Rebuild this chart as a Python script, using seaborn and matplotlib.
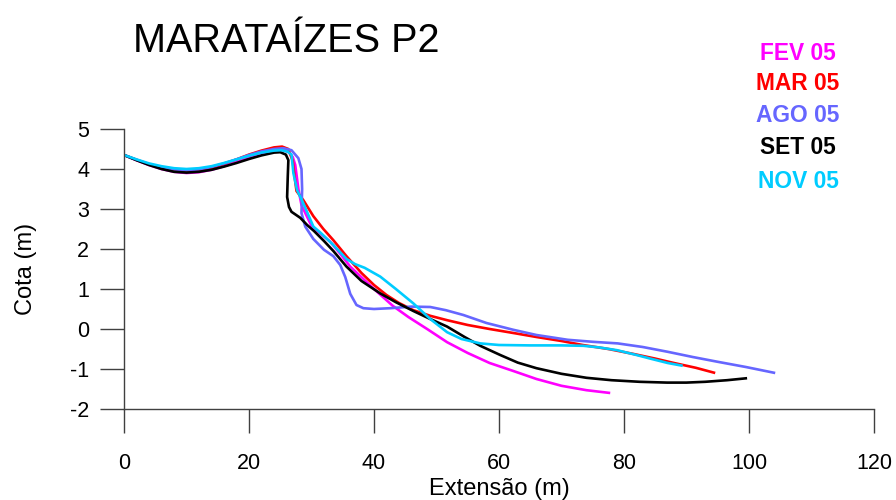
import matplotlib
matplotlib.use('Agg')
import matplotlib.pyplot as plt
import seaborn as sns
import pandas as pd

# perfis de praia - Marataízes P2
labels = ['FEV 05', 'MAR 05', 'AGO 05', 'SET 05', 'NOV 05']
colors = ['#ff00ff', '#ff0000', '#6666ff', '#000000', '#00ccff']

fev_x = [0, 2, 4, 6, 8, 10, 12, 14, 16, 18, 20, 22, 24, 25.3, 26.3, 27.0, 27.4, 27.9, 28.4, 29, 30, 31.5, 33, 34.5,
         36.2, 38.3, 40.5, 43, 45.5, 48.5, 51.7, 55, 58.5, 62.3, 66, 70, 74, 77.8]
fev_y = [4.35, 4.22, 4.1, 4.0, 3.93, 3.9, 3.92, 3.98, 4.07, 4.17, 4.28, 4.38, 4.46, 4.48, 4.43, 4.3, 4.1, 3.5, 3.1, 2.9,
         2.58, 2.38, 2.18, 1.9, 1.56, 1.25, 0.93, 0.58, 0.3, 0.0, -0.33, -0.6, -0.85, -1.05, -1.25, -1.42, -1.53, -1.6]

mar_x = [0, 2, 4, 6, 8, 10, 12, 14, 16, 18, 20, 22, 24, 25.3, 26.3, 27.0, 27.3, 27.6, 28.7, 30.3, 31.9, 33.5, 35.6,
         38, 40, 42, 44, 46.3, 49, 51.7, 55, 58.5, 62.3, 66, 70, 73.4, 77.5, 81.4, 85, 88, 91.5, 94.6]
mar_y = [4.35, 4.23, 4.12, 4.03, 3.96, 3.94, 3.96, 4.03, 4.13, 4.24, 4.36, 4.46, 4.54, 4.56, 4.5, 4.2, 3.8, 3.45,
         3.22, 2.82, 2.5, 2.22, 1.82, 1.4, 1.1, 0.85, 0.65, 0.47, 0.33, 0.22, 0.1, 0.0, -0.1, -0.2, -0.3, -0.4, -0.5,
         -0.62, -0.74, -0.85, -0.97, -1.1]

ago_x = [0, 2, 4, 6, 8, 10, 12, 14, 16, 18, 20, 22, 24, 25.5, 26.8, 27.9, 28.4, 28.5, 28.4, 29, 30.3, 32, 33.5, 34.6,
         35.4, 36.2, 37.2, 38.3, 40, 42.6, 46, 49, 51.5, 54.3, 58, 62.3, 66, 71, 75, 79, 83, 87, 91, 95, 99.5, 104.2]
ago_y = [4.35, 4.23, 4.12, 4.04, 3.99, 3.97, 3.99, 4.05, 4.14, 4.24, 4.35, 4.44, 4.5, 4.52, 4.47, 4.27, 4.0, 3.5,
         2.9, 2.56, 2.25, 1.98, 1.82, 1.6, 1.3, 0.88, 0.6, 0.52, 0.5, 0.52, 0.56, 0.55, 0.47, 0.35, 0.15, -0.02,
         -0.15, -0.27, -0.32, -0.36, -0.45, -0.57, -0.7, -0.82, -0.95, -1.1]

set_x = [0, 2, 4, 6, 8, 10, 12, 14, 16, 18, 20, 22, 24, 25, 25.9, 26.3, 26.2, 26.1, 26.4, 26.8, 28.2, 29.3, 30.4, 32,
         33.5, 35.6, 38, 41, 43.5, 46.3, 49, 51.7, 54.5, 57, 60.2, 63, 66, 70, 74, 78, 82.5, 86.9, 90, 93, 96.5, 99.7]
set_y = [4.35, 4.22, 4.1, 4.0, 3.93, 3.91, 3.93, 3.98, 4.06, 4.15, 4.25, 4.34, 4.41, 4.42, 4.36, 4.22, 3.8, 3.3,
         3.05, 2.93, 2.78, 2.6, 2.45, 2.2, 1.95, 1.56, 1.2, 0.89, 0.67, 0.45, 0.25, 0.06, -0.2, -0.42, -0.65, -0.84,
         -0.98, -1.12, -1.22, -1.28, -1.32, -1.34, -1.34, -1.32, -1.28, -1.23]

nov_x = [0, 2, 4, 6, 8, 10, 12, 14, 16, 18, 20, 22, 24, 25.2, 26.2, 26.8, 27.1, 27.7, 28.7, 30.3, 31.5, 33.5, 35.6,
         37, 38.5, 41, 43.5, 46.3, 49, 51.7, 54, 57, 60, 65, 70, 73.5, 76, 78.9, 82, 84.2, 87, 89.4]
nov_y = [4.35, 4.24, 4.14, 4.07, 4.02, 4.0, 4.02, 4.07, 4.15, 4.24, 4.33, 4.41, 4.46, 4.47, 4.43, 4.36, 3.9, 3.47,
         3.14, 2.56, 2.4, 2.1, 1.75, 1.62, 1.53, 1.31, 1.0, 0.64, 0.25, -0.08, -0.25, -0.36, -0.4, -0.41, -0.41,
         -0.42, -0.46, -0.53, -0.65, -0.74, -0.85, -0.92]

series = [(fev_x, fev_y), (mar_x, mar_y), (ago_x, ago_y), (set_x, set_y), (nov_x, nov_y)]

frames = []
for lab, (xs, ys) in zip(labels, series):
    frames.append(pd.DataFrame({'ext': xs, 'cota': ys, 'campanha': lab}))
df = pd.concat(frames, ignore_index=True)

sns.set_style('white')
plt.rcParams['font.family'] = ['Liberation Sans', 'DejaVu Sans']
plt.rcParams['axes.unicode_minus'] = False
plt.rcParams['text.color'] = 'black'
plt.rcParams['axes.labelcolor'] = 'black'

fig = plt.figure(figsize=(8.96, 5), dpi=100)
ax = fig.add_axes([0.1384, 0.182, 0.837, 0.56])

sns.lineplot(data=df, x='ext', y='cota', hue='campanha', palette=colors,
             sort=False, estimator=None, linewidth=1.9, legend=False, ax=ax,
             solid_joinstyle='round', solid_capstyle='butt')

ax.set_xlim(0, 120)
ax.set_ylim(-2, 5)
ax.set_xticks(range(0, 121, 20))
ax.set_yticks(range(-2, 6))
sns.despine(ax=ax)
for sp in ['left', 'bottom']:
    ax.spines[sp].set_color('#404040')
    ax.spines[sp].set_linewidth(1.0)
ax.tick_params(direction='out', length=17, width=1.0, color='#404040',
               labelsize=15.5, labelcolor='black', left=True, bottom=True)
ax.tick_params(axis='y', pad=8)
ax.tick_params(axis='x', pad=15)
ax.set_xlabel('Extensão (m)', fontsize=17)
ax.set_ylabel('Cota (m)', fontsize=17)
ax.xaxis.set_label_coords(0.5, -0.246)
ax.yaxis.set_label_coords(-0.116, 0.5)

fig.text(0.1485, 1 - 52 / 500, 'MARATAÍZES P2', fontsize=28.5, ha='left', va='baseline')

leg_y = [53, 83, 115, 148, 182]
for lab, c, py in zip(labels, colors, leg_y):
    fig.text(798 / 896, 1 - py / 500, lab, color=c, fontsize=16.4, fontweight='bold',
             ha='center', va='center')

fig.savefig('out.png', dpi=100)
